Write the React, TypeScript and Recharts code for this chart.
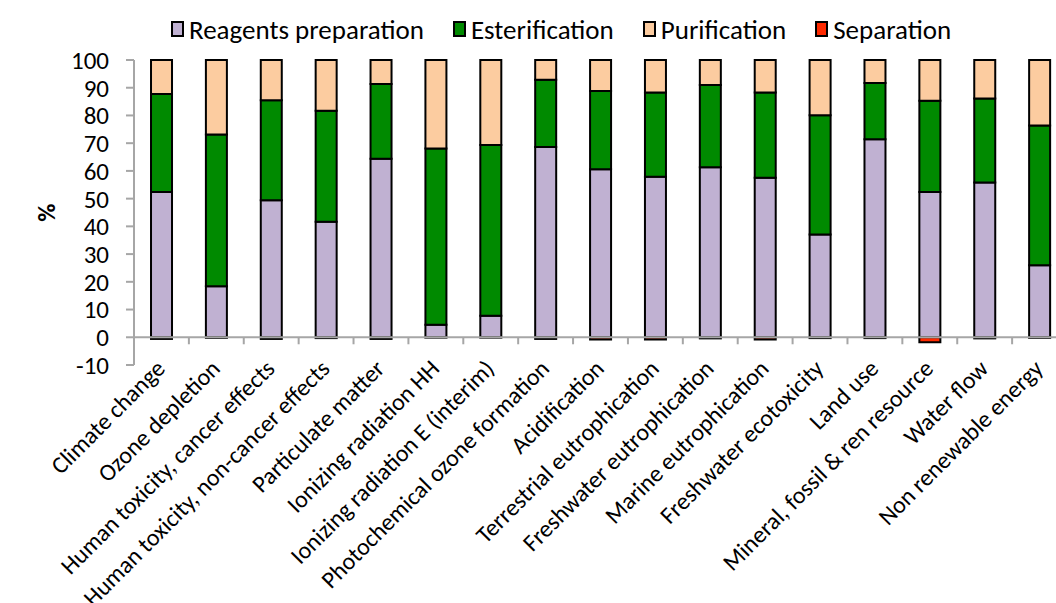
import { BarChart, Bar, XAxis, YAxis, Legend, ReferenceLine } from 'recharts'

const categories = [
  'Climate change',
  'Ozone depletion',
  'Human toxicity, cancer effects',
  'Human toxicity, non-cancer effects',
  'Particulate matter',
  'Ionizing radiation HH',
  'Ionizing radiation E (interim)',
  'Photochemical ozone formation',
  'Acidification',
  'Terrestrial eutrophication',
  'Freshwater eutrophication',
  'Marine eutrophication',
  'Freshwater ecotoxicity',
  'Land use',
  'Mineral, fossil & ren resource',
  'Water flow',
  'Non renewable energy',
]

const seriesNames = ['Reagents preparation', 'Esterification', 'Purification', 'Separation']

const reagents = [52.4, 18.4, 49.4, 41.7, 64.4, 4.5, 7.8, 68.6, 60.6, 57.9, 61.3, 57.5, 37.1, 71.4, 52.4, 55.8, 26.0]
const esterification = [35.3, 54.7, 36.1, 40.0, 26.9, 63.6, 61.5, 24.3, 28.2, 30.4, 29.7, 30.8, 43.0, 20.3, 32.9, 30.3, 50.4]
const purification = [12.3, 26.9, 14.5, 18.3, 8.7, 31.9, 30.7, 7.1, 11.2, 11.7, 9.0, 11.7, 19.9, 8.3, 14.7, 13.9, 23.6]
const separation = [-0.6, -0.2, -0.6, -0.3, -0.6, -0.1, -0.1, -0.6, -0.8, -0.8, -0.4, -0.8, -0.3, -0.3, -1.8, -0.4, -0.2]

const yTicks = [-10, 0, 10, 20, 30, 40, 50, 60, 70, 80, 90, 100]

const FONT = 'Carlito, Calibri, Lato, sans-serif'

const data = categories.map((name, i) => ({
  name,
  reagents: reagents[i],
  esterification: esterification[i],
  purification: purification[i],
  separation: separation[i],
}))

function renderLegend(props: any) {
  const payload = [...(props.payload || [])].sort(
    (a: any, b: any) => seriesNames.indexOf(a.value) - seriesNames.indexOf(b.value)
  )
  return (
    <div style={{ display: 'flex', alignItems: 'center', height: 32, paddingLeft: 171, fontSize: 27, fontFamily: FONT, color: '#000', whiteSpace: 'nowrap' }}>
      {payload.map((entry: any) => (
        <div key={entry.value} style={{ display: 'flex', alignItems: 'center', marginRight: 29 }}>
          <span style={{ display: 'inline-block', width: 13, height: 16, background: entry.color, border: '2px solid #000', boxSizing: 'border-box', marginRight: 5 }} />
          {entry.value}
        </div>
      ))}
    </div>
  )
}

function CategoryTick(props: any) {
  const { x, y, payload } = props
  return (
    <g transform={`translate(${x + 5},${y + 5})`}>
      <text x={0} y={0} textAnchor="end" transform="rotate(-45)" fontSize={24} fontFamily={FONT} fill="#000">
        {payload.value}
      </text>
    </g>
  )
}

function ZeroLine(props: any) {
  const { x1, y1, x2 } = props
  const step = (x2 - x1) / categories.length
  return (
    <g>
      <line x1={x1} y1={y1} x2={x2} y2={y1} stroke="#a6a6a6" strokeWidth={2} />
      {categories.map((_, i) => (
        <line key={i} x1={x1 + step * (i + 1)} y1={y1} x2={x1 + step * (i + 1)} y2={y1 + 7} stroke="#a6a6a6" strokeWidth={2} />
      ))}
    </g>
  )
}

function PercentLabel(props: any) {
  const { viewBox } = props
  const cx = 46
  const cy = viewBox.y + viewBox.height / 2
  return (
    <text x={cx} y={cy} transform={`rotate(-90, ${cx}, ${cy})`} textAnchor="middle" dominantBaseline="central" fontSize={25} fontWeight="bold" fontFamily={FONT} fill="#000">
      %
    </text>
  )
}

export default function App() {
  return (
    <div style={{ position: 'absolute', left: 0, top: 0, width: 1056, height: 603, overflow: 'hidden', background: '#fff' }}>
      <BarChart
        width={1080}
        height={603}
        data={data}
        stackOffset="sign"
        barCategoryGap="31%"
        margin={{ top: 28, right: 13, bottom: 0, left: 0 }}
      >
        <Legend verticalAlign="top" align="left" content={renderLegend} wrapperStyle={{ top: 13, left: 0 }} />
        <XAxis
          dataKey="name"
          interval={0}
          height={238}
          axisLine={false}
          tickLine={false}
          tickSize={0}
          tickMargin={0}
          tick={<CategoryTick />}
        />
        <YAxis
          domain={[-10, 100]}
          ticks={yTicks}
          interval={0}
          width={134}
          axisLine={{ stroke: '#a6a6a6', strokeWidth: 2 }}
          tickLine={{ stroke: '#a6a6a6', strokeWidth: 2 }}
          tickSize={8}
          tickMargin={17}
          tick={{ fontSize: 25, fontFamily: FONT, fill: '#000' }}
          label={<PercentLabel />}
        />
        <ReferenceLine y={0} shape={<ZeroLine />} />
        <Bar dataKey="reagents" name="Reagents preparation" stackId="a" fill="#c0b1d2" stroke="#000" strokeWidth={2} isAnimationActive={false} />
        <Bar dataKey="esterification" name="Esterification" stackId="a" fill="#008a00" stroke="#000" strokeWidth={2} isAnimationActive={false} />
        <Bar dataKey="purification" name="Purification" stackId="a" fill="#fccca0" stroke="#000" strokeWidth={2} isAnimationActive={false} />
        <Bar dataKey="separation" name="Separation" stackId="a" fill="#ff2a00" stroke="#000" strokeWidth={2} isAnimationActive={false} />
      </BarChart>
    </div>
  )
}
